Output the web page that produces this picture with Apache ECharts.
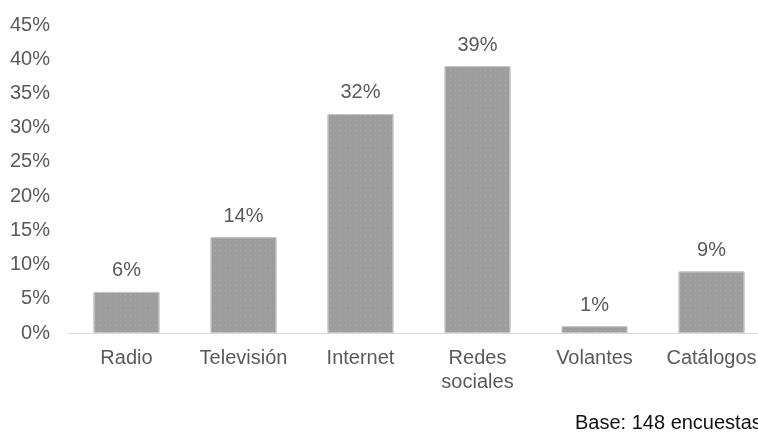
<!DOCTYPE html>
<html>
<head>
<meta charset="utf-8">
<script src="https://cdn.jsdelivr.net/npm/echarts@6/dist/echarts.min.js"></script>
<style>
  html, body { margin: 0; padding: 0; background: #fff; overflow: hidden; }
  /* el original está recortado por la derecha: el lienzo es más ancho que la ventana */
  #chart { width: 770px; height: 433px; }
</style>
</head>
<body>
<div id="chart"></div>
<script>
// datos
const categories = ['Radio', 'Televisión', 'Internet', 'Redes\nsociales', 'Volantes', 'Catálogos'];
const values = [6, 14, 32, 39, 1, 9];
const yTicks = { min: 0, max: 45, interval: 5 };
const note = 'Base: 148 encuestas';

const myChart = echarts.init(document.getElementById('chart'));

const font = 'Liberation Sans, Arial, sans-serif';
const textColor = '#595959';

const option = {
    animation: false,
    grid: { left: 68, right: 0, top: 25, height: 308 },
    graphic: [{
        type: 'text',
        left: 575,
        top: 413,
        style: { text: note, fill: '#111', font: '20px ' + font }
    }],
    xAxis: {
        type: 'category',
        data: categories,
        axisLine: { lineStyle: { color: '#d9d9d9', width: 1 } },
        axisTick: { show: false },
        axisLabel: {
            interval: 0, // mostrar todas las etiquetas
            color: textColor, fontSize: 20, fontFamily: font, margin: 13, lineHeight: 24
        }
    },
    yAxis: {
        type: 'value',
        min: yTicks.min,
        max: yTicks.max,
        interval: yTicks.interval,
        splitLine: { show: false },
        axisLine: { show: false },
        axisTick: { show: false },
        axisLabel: {
            color: textColor, fontSize: 20, fontFamily: font, margin: 18,
            formatter: v => v + '%'
        }
    },
    series: [{
        type: 'bar',
        data: values,
        barWidth: 66,
        itemStyle: {
            color: '#9d9d9d',
            borderColor: '#c4c4c4',
            borderWidth: 1,
            decal: {
                symbol: 'rect',
                symbolSize: 1,
                dashArrayX: [1, 4],
                dashArrayY: [1, 4],
                color: 'rgba(255,255,255,0.18)'
            }
        },
        label: {
            show: true,
            position: 'top',
            distance: 11,
            color: textColor,
            fontSize: 20,
            fontFamily: font,
            formatter: p => p.value + '%'
        }
    }]
};

myChart.setOption(option);
</script>
</body>
</html>
